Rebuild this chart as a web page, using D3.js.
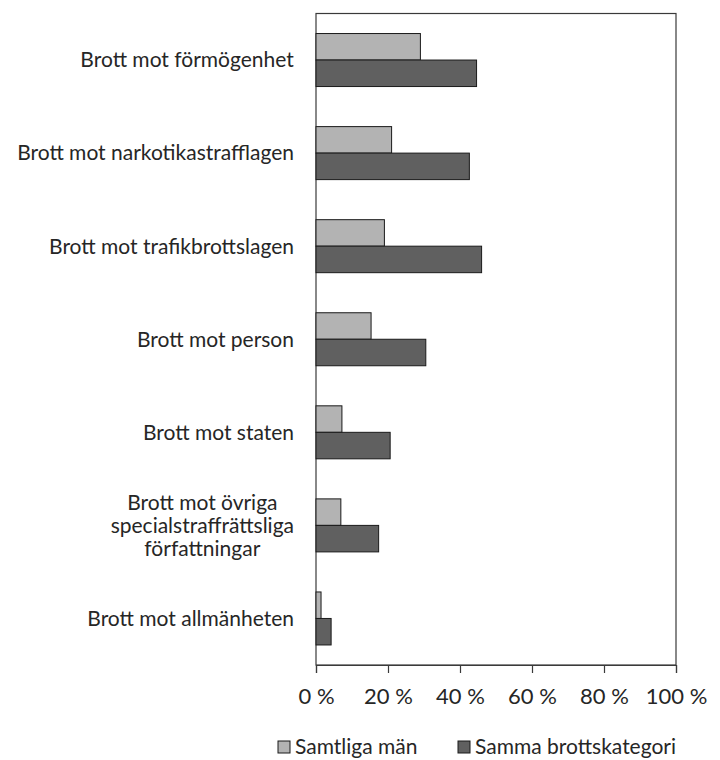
<!DOCTYPE html>
<html>
<head>
<meta charset="utf-8">
<script src="https://cdn.jsdelivr.net/npm/d3@7"></script>
<style>
  body { margin: 0; background: #fff; }
  text { font-family: Lato, "Open Sans", sans-serif; fill: #262626; }
</style>
</head>
<body>
<svg width="720" height="760"></svg>
<script>
const categories = [
  ["Brott mot förmögenhet"],
  ["Brott mot narkotikastrafflagen"],
  ["Brott mot trafikbrottslagen"],
  ["Brott mot person"],
  ["Brott mot staten"],
  ["Brott mot övriga", "specialstraffrättsliga", "författningar"],
  ["Brott mot allmänheten"]
]
const seriesNames = ["Samtliga män", "Samma brottskategori"]
const samtligaMan = [29, 21, 19, 15.3, 7.2, 6.9, 1.4]
const sammaKategori = [44.6, 42.6, 46, 30.5, 20.6, 17.4, 4.2]
const xTicks = [0, 20, 40, 60, 80, 100]

const colors = { "Samtliga män": "#b3b3b3", "Samma brottskategori": "#606060" }

const svg = d3.select("svg")
const plot = { left: 316, right: 676, top: 13.5, bottom: 665 }

const keys = categories.map((c) => c.join(" "))
const rows = keys.map((k, i) => ({
  key: k,
  lines: categories[i],
  values: [samtligaMan[i], sammaKategori[i]]
}))

const x = d3.scaleLinear().domain([0, 100]).range([plot.left, plot.right])
const y = d3.scaleBand().domain(keys).range([plot.top, plot.bottom])
const ySub = d3
  .scaleBand()
  .domain(seriesNames)
  .range([0, y.bandwidth()])
  .paddingOuter(0.756)

// frame
svg
  .append("rect")
  .attr("x", plot.left)
  .attr("y", plot.top)
  .attr("width", plot.right - plot.left)
  .attr("height", plot.bottom - plot.top)
  .attr("fill", "none")
  .attr("stroke", "#3a3a3a")
  .attr("stroke-width", 1.2)

// bars
const groups = svg
  .selectAll("g.cat")
  .data(rows)
  .join("g")
  .attr("class", "cat")
  .attr("transform", (d) => `translate(0,${y(d.key)})`)

groups
  .selectAll("rect")
  .data((d) => d.values.map((v, i) => ({ name: seriesNames[i], value: v })))
  .join("rect")
  .attr("x", x(0))
  .attr("y", (d) => ySub(d.name))
  .attr("width", (d) => x(d.value) - x(0))
  .attr("height", ySub.bandwidth())
  .attr("fill", (d) => colors[d.name])
  .attr("stroke", "#1a1a1a")
  .attr("stroke-width", 1)

// category labels
const lineH = 23
groups
  .append("text")
  .attr("text-anchor", "middle")
  .attr("font-size", 21)
  .each(function (d) {
    const t = d3.select(this)
    const n = d.lines.length
    d.lines.forEach((line, i) => {
      t.append("tspan")
        .attr("x", 0)
        .attr("y", y.bandwidth() / 2 + (i - (n - 1) / 2) * lineH)
        .attr("dy", "0.35em")
        .text(line)
    })
  })
  .attr("transform", function () {
    const w = this.getBBox().width
    return `translate(${294 - w / 2},0)`
  })

// x axis
const xAxis = svg
  .append("g")
  .attr("transform", `translate(0,${plot.bottom})`)
  .call(
    d3
      .axisBottom(x)
      .tickValues(xTicks)
      .tickSize(8)
      .tickPadding(15)
      .tickFormat((d) => d + " %")
  )
xAxis.select(".domain").attr("stroke", "#3a3a3a").attr("stroke-width", 1.2)
xAxis.selectAll(".tick line").attr("stroke", "#3a3a3a").attr("stroke-width", 1.2)
xAxis
  .selectAll(".tick text")
  .attr("font-size", 22)
  .attr("font-family", "Lato, sans-serif")
  .attr("fill", "#262626")

// legend
const legendItems = [
  { name: seriesNames[0], x: 278 },
  { name: seriesNames[1], x: 458 }
]
const legend = svg
  .selectAll("g.legend")
  .data(legendItems)
  .join("g")
  .attr("class", "legend")
  .attr("transform", (d) => `translate(${d.x},741)`)
legend
  .append("rect")
  .attr("width", 12)
  .attr("height", 12)
  .attr("fill", (d) => colors[d.name])
  .attr("stroke", "#1a1a1a")
  .attr("stroke-width", 1)
legend
  .append("text")
  .attr("x", 17)
  .attr("y", 6)
  .attr("dy", "0.35em")
  .attr("font-size", 21)
  .text((d) => d.name)
</script>
</body>
</html>
